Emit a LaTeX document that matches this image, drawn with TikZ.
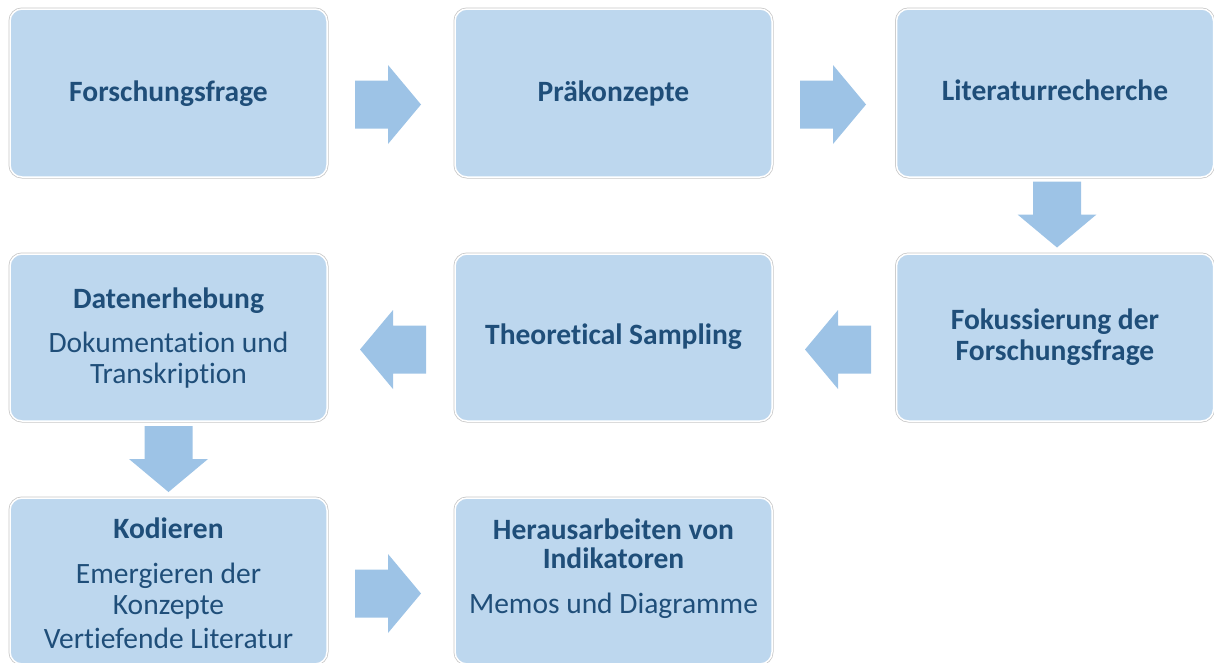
\documentclass[tikz,border=0pt]{standalone}
\usepackage{fontspec}
\setmainfont{Carlito}[Ligatures=NoCommon]
\usetikzlibrary{calc}
\definecolor{boxfill}{HTML}{BDD7EE}
\definecolor{arrowfill}{HTML}{9DC3E6}
\definecolor{textblue}{HTML}{1F4E79}
\begin{document}
\begin{tikzpicture}[x=1pt,y=-1pt,
  stepbox/.style={rectangle, rounded corners=12pt, minimum width=317pt,
    minimum height=168pt, inner sep=0pt, outer sep=0pt, fill=boxfill,
    draw=white, line width=1.5pt,
    preaction={draw=black!22, line width=3pt}},
  head/.style={anchor=base, inner sep=0pt, text=textblue,
    font=\fontsize{29.5}{35}\selectfont\bfseries},
  body/.style={anchor=base, inner sep=0pt, text=textblue,
    font=\fontsize{29.5}{35}\selectfont},
  blockarrow/.pic={
    \fill[arrowfill] (0,-24) -- (33,-24) -- (33,-39.5) -- (66,0)
      -- (33,39.5) -- (33,24) -- (0,24) -- cycle;
  }]
\useasboundingbox (0,0) rectangle (1214,662);

% process steps
\node[stepbox] (b1) at (168.5,93) {};
\node[stepbox] (b2) at (613.5,93) {};
\node[stepbox] (b3) at (1055,93) {};
\node[stepbox, minimum height=167pt] (b6) at (1055,337.5) {};
\node[stepbox, minimum height=167pt] (b5) at (613.5,337.5) {};
\node[stepbox, minimum height=167pt] (b4) at (168.5,337.5) {};
\node[stepbox, minimum height=166pt] (b7) at (168.5,581) {};
\node[stepbox, minimum height=166pt] (b8) at (613.5,581) {};

% labels
\node[head] (t1) at (b1.center |- 0,101.5) {Forschungsfrage};
\node[head] (t2) at (b2.center |- 0,101) {Präkonzepte};
\node[head] (t3) at (b3.center |- 0,100) {Literaturrecherche};
\node[head] (t6a) at (b6.center |- 0,329) {Fokussierung der};
\node[head] (t6b) at (b6.center |- 0,360) {Forschungsfrage};
\node[head] (t5) at (b5.center |- 0,344.5) {Theoretical Sampling};
\node[head] (t4a) at (b4.center |- 0,308) {Datenerhebung};
\node[body] (t4b) at (b4.center |- 0,352) {Dokumentation und};
\node[body] (t4c) at (b4.center |- 0,383) {Transkription};
\node[head] (t7a) at (b7.center |- 0,538) {Kodieren};
\node[body] (t7b) at (b7.center |- 0,583) {Emergieren der};
\node[body] (t7c) at (b7.center |- 0,614) {Konzepte};
\node[body] (t7d) at (b7.center |- 0,648) {Vertiefende Literatur};
\node[head] (t8a) at (b8.center |- 0,539) {Herausarbeiten von};
\node[head] (t8b) at (b8.center |- 0,568.5) {Indikatoren};
\node[body] (t8c) at (b8.center |- 0,613) {Memos und Diagramme};

% block arrows between the steps
\pic at ($(b1.east)+(28,11.5)$) {blockarrow};
\pic at ($(b2.east)+(28,11.5)$) {blockarrow};
\pic[rotate=-90] at ($(b3.south)+(2,4.5)$) {blockarrow};
\pic[rotate=180] at ($(b6.west)+(-25.5,12)$) {blockarrow};
\pic[rotate=180] at ($(b5.west)+(-29,12)$) {blockarrow};
\pic[rotate=-90] at ($(b4.south)+(0,5)$) {blockarrow};
\pic at ($(b7.east)+(28,12.5)$) {blockarrow};
\end{tikzpicture}
\end{document}
